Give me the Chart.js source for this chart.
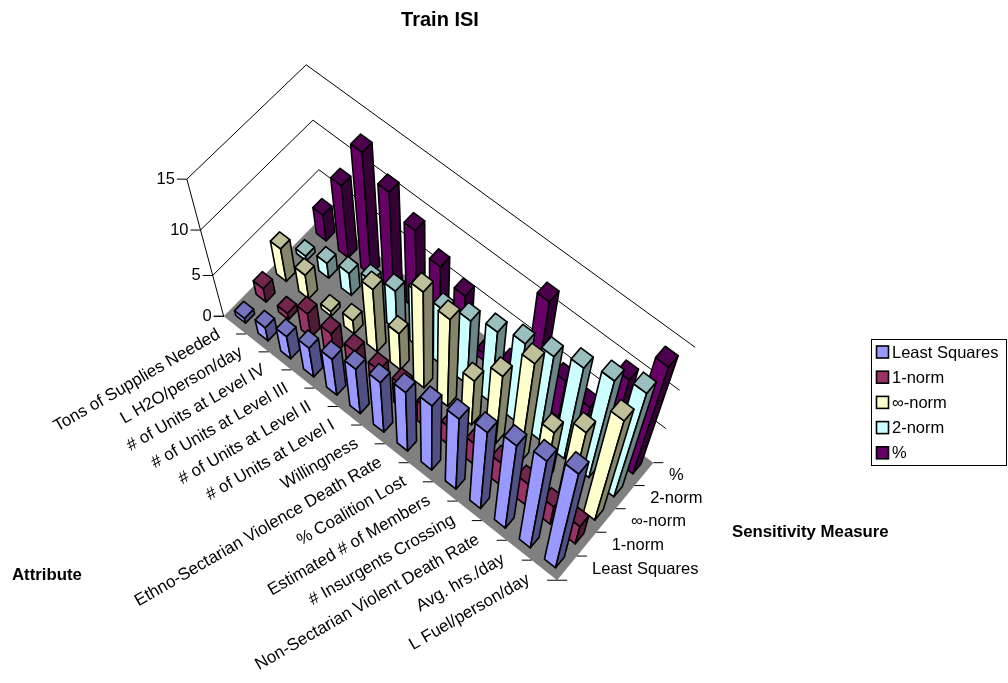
<!DOCTYPE html>
<html>
<head>
<meta charset="utf-8">
<title>Train ISI</title>
<script src="https://cdn.jsdelivr.net/npm/chart.js@4/dist/chart.umd.min.js"></script>
<style>
  html, body { margin: 0; padding: 0; background: #fff; }
  canvas { display: block; }
</style>
</head>
<body>
<canvas id="chart" width="1008" height="683"></canvas>
<script>
const attributes = [
  "Tons of Supplies Needed", "L H2O/person/day", "# of Units at Level IV",
  "# of Units at Level III", "# of Units at Level II", "# of Units at Level I",
  "Willingness", "Ethno-Sectarian Violence Death Rate", "% Coalition Lost",
  "Estimated # of Members", "# Insurgents Crossing",
  "Non-Sectarian Violent Death Rate", "Avg. hrs./day", "L Fuel/person/day",
];
const seriesNames = ["Least Squares", "1-norm", "∞-norm", "2-norm", "%"];
const seriesColors = ["#9999ff", "#993366", "#ffffcc", "#ccffff", "#660066"];

const leastSquares = [0.6, 1.7, 2.9, 3.8, 4.8, 6, 6.8, 8.1, 9, 10, 11, 12.1, 13, 14.3];
const oneNorm = [1.7, 0.8, 3, 2.8, 2.9, 2.9, 3.3, 2.8, 2.6, 3, 3.2, 3.2, 2.8, 2.9];
const infNorm = [3.9, 2.9, 0.6, 1.7, 7.7, 4.7, 11.8, 11, 6, 9.1, 13.1, 7.1, 9.9, 14.1];
const twoNorm = [0.6, 1.8, 2.7, 3.9, 4.9, 6.8, 7, 8.1, 9.1, 10.1, 11, 12.1, 13.1, 14.2];
const percent = [3, 8.1, 13.2, 11.2, 9.2, 7.3, 6.1, 0.9, 2, 12.1, 5, 4.1, 10.2, 14.2];

const FONT = '"Liberation Sans", Arial, sans-serif';
const LABEL_SIZE = 16.5;
const BAR_FRACTION = 0.44;

// floor and wall corners as [attribute axis, series axis, value axis, screen x, screen y]
const frameAnchors = [
  [0, 0, 0, 223, 317], [1, 0, 0, 557, 580], [1, 1, 0, 653, 462], [0, 1, 0, 325, 213],
  [0, 0, 1 / 3, 213, 276], [0, 0, 2 / 3, 201, 230], [0, 0, 1, 187, 178],
  [0, 1, 1 / 3, 319, 170], [0, 1, 2 / 3, 312, 121], [0, 1, 1, 306, 65],
  [1, 1, 1 / 3, 666, 430], [1, 1, 2 / 3, 680, 390], [1, 1, 1, 695, 347],
];

function solveProjection(anchors) {
  const n = 11;
  const m = Array.from({ length: n }, () => new Array(n + 1).fill(0));
  const addRow = (row, rhs) => {
    for (let i = 0; i < n; i++) {
      for (let j = 0; j < n; j++) m[i][j] += row[i] * row[j];
      m[i][n] += row[i] * rhs;
    }
  };
  anchors.forEach(([u, v, w, sx, sy]) => {
    addRow([u, v, w, 1, 0, 0, 0, 0, -sx * u, -sx * v, -sx * w], sx);
    addRow([0, 0, 0, 0, u, v, w, 1, -sy * u, -sy * v, -sy * w], sy);
  });
  for (let c = 0; c < n; c++) {
    let best = c;
    for (let r = c + 1; r < n; r++) if (Math.abs(m[r][c]) > Math.abs(m[best][c])) best = r;
    [m[c], m[best]] = [m[best], m[c]];
    for (let r = 0; r < n; r++) {
      if (r === c) continue;
      const f = m[r][c] / m[c][c];
      for (let k = c; k <= n; k++) m[r][k] -= f * m[c][k];
    }
  }
  return m.map((row, i) => row[n] / row[i]);
}

const P = solveProjection(frameAnchors);

function project(u, v, w) {
  const d = P[8] * u + P[9] * v + P[10] * w + 1;
  return [(P[0] * u + P[1] * v + P[2] * w + P[3]) / d, (P[4] * u + P[5] * v + P[6] * w + P[7]) / d];
}

function shade(hex, k) {
  const c = parseInt(hex.slice(1), 16);
  const ch = (s) => Math.round(((c >> s) & 255) * k);
  return `rgb(${ch(16)},${ch(8)},${ch(0)})`;
}

function polygon(ctx, points, fill, stroke, width) {
  ctx.beginPath();
  points.forEach((p, i) => (i ? ctx.lineTo(p[0], p[1]) : ctx.moveTo(p[0], p[1])));
  ctx.closePath();
  if (fill) {
    ctx.fillStyle = fill;
    ctx.fill();
  }
  if (stroke) {
    ctx.strokeStyle = stroke;
    ctx.lineWidth = width;
    ctx.lineJoin = "round";
    ctx.stroke();
  }
}

function line(ctx, a, b) {
  ctx.beginPath();
  ctx.moveTo(a[0], a[1]);
  ctx.lineTo(b[0], b[1]);
  ctx.stroke();
}

// bar chart whose bars are boxes standing on the projected floor
class Bar3DController extends Chart.BarController {
  draw() {
    const { x: xScale, y: yScale, depth } = this.chart.scales;
    const ctx = this.chart.ctx;
    const color = this.getDataset().backgroundColor;
    const values = this.getDataset().data;
    const v = depth.getDecimalForPixel(depth.getPixelForValue(this.index));
    const hu = BAR_FRACTION / 2 / attributes.length;
    const hv = BAR_FRACTION / 2 / seriesNames.length;
    values.forEach((value, i) => {
      const u = xScale.getDecimalForPixel(xScale.getPixelForValue(i));
      const w = yScale.getDecimalForPixel(yScale.getPixelForValue(value));
      const corner = (a, b, c) => project(u + a * hu, v + b * hv, c);
      polygon(ctx, [corner(-1, -1, 0), corner(1, -1, 0), corner(1, -1, w), corner(-1, -1, w)], color, "#000", 1.6);
      polygon(ctx, [corner(1, -1, 0), corner(1, 1, 0), corner(1, 1, w), corner(1, -1, w)], shade(color, 0.52), "#000", 1.6);
      polygon(ctx, [corner(-1, -1, w), corner(1, -1, w), corner(1, 1, w), corner(-1, 1, w)], shade(color, 0.75), "#000", 1.6);
    });
  }
}
Bar3DController.id = "bar3d";
Bar3DController.defaults = Chart.BarController.defaults;
Chart.register(Bar3DController);

const frame3d = {
  id: "frame3d",
  beforeDatasetsDraw(chart) {
    const ctx = chart.ctx;
    const yScale = chart.scales.y;
    ctx.save();
    polygon(ctx, [project(0, 0, 0), project(1, 0, 0), project(1, 1, 0), project(0, 1, 0)], "#808080");
    ctx.strokeStyle = "#000";
    ctx.lineWidth = 1;
    line(ctx, project(0, 0, 0), project(0, 0, 1));
    yScale.ticks.forEach((tick) => {
      const w = yScale.getDecimalForPixel(yScale.getPixelForValue(tick.value));
      if (w > 0) {
        line(ctx, project(0, 0, w), project(0, 1, w));
        line(ctx, project(0, 1, w), project(1, 1, w));
      }
      const p = project(0, 0, w);
      line(ctx, [p[0] - 10, p[1]], p);
    });
    for (let k = 0; k <= attributes.length; k++) {
      const p = project(k / attributes.length, 0, 0);
      line(ctx, [p[0] - 10, p[1]], p);
    }
    for (let k = 0; k <= seriesNames.length; k++) {
      const p = project(1, k / seriesNames.length, 0);
      line(ctx, p, [p[0] + 10, p[1]]);
    }
    ctx.restore();
  },
  afterDatasetsDraw(chart) {
    const ctx = chart.ctx;
    const { x: xScale, y: yScale, depth } = chart.scales;
    ctx.save();
    ctx.fillStyle = "#000";
    ctx.font = `${LABEL_SIZE}px ${FONT}`;
    ctx.textBaseline = "middle";
    ctx.textAlign = "right";
    yScale.ticks.forEach((tick) => {
      const p = project(0, 0, yScale.getDecimalForPixel(yScale.getPixelForValue(tick.value)));
      ctx.fillText(tick.label, p[0] - 12, p[1]);
    });
    ctx.font = `17px ${FONT}`;
    attributes.forEach((name, i) => {
      const p = project(xScale.getDecimalForPixel(xScale.getPixelForValue(i)), 0, 0);
      ctx.save();
      ctx.translate(p[0] - 16, p[1] + 8);
      ctx.rotate((-30 * Math.PI) / 180);
      ctx.fillText(name, 0, 0);
      ctx.restore();
    });
    ctx.font = `${LABEL_SIZE}px ${FONT}`;
    ctx.textAlign = "left";
    seriesNames.forEach((name, j) => {
      const p = project(1, depth.getDecimalForPixel(depth.getPixelForValue(j)), 0);
      ctx.fillText(name, p[0] + 25, p[1] + 1);
    });
    ctx.font = `bold 16.8px ${FONT}`;
    ctx.fillText("Attribute", 12, 575);
    ctx.fillText("Sensitivity Measure", 732, 532);
    ctx.restore();
  },
  afterDraw(chart) {
    const ctx = chart.ctx;
    ctx.save();
    ctx.strokeStyle = "#000";
    ctx.lineWidth = 1;
    ctx.strokeRect(871.5, 339.5, 135, 126);
    ctx.textBaseline = "middle";
    ctx.textAlign = "left";
    ctx.font = `${LABEL_SIZE}px ${FONT}`;
    seriesNames.forEach((name, j) => {
      const y = 352 + j * 25.2;
      ctx.fillStyle = seriesColors[j];
      ctx.lineWidth = 1.6;
      ctx.fillRect(876.5, y - 6, 12, 12);
      ctx.strokeRect(876.5, y - 6, 12, 12);
      ctx.fillStyle = "#000";
      ctx.fillText(name, 892, y + 1);
    });
    ctx.restore();
  },
};

const seriesValues = [leastSquares, oneNorm, infNorm, twoNorm, percent];

new Chart(document.getElementById("chart").getContext("2d"), {
  type: "bar3d",
  data: {
    labels: attributes,
    datasets: seriesNames.map((name, j) => ({
      label: name,
      data: seriesValues[j],
      backgroundColor: seriesColors[j],
      borderColor: "#000",
      borderWidth: 2,
    })),
  },
  options: {
    responsive: false,
    animation: false,
    layout: { padding: { right: 128 } },
    scales: {
      x: { type: "category", display: false, offset: true },
      depth: { type: "category", axis: "x", labels: seriesNames, display: false, offset: true },
      y: { type: "linear", display: false, min: 0, max: 15, ticks: { stepSize: 5 } },
    },
    plugins: {
      title: {
        display: true,
        text: "Train ISI",
        color: "#000",
        font: { family: FONT, size: 20, weight: "bold" },
        padding: { top: 8, bottom: 10 },
      },
      legend: { display: false },
      tooltip: { enabled: false },
    },
  },
  plugins: [frame3d],
});
</script>
</body>
</html>
